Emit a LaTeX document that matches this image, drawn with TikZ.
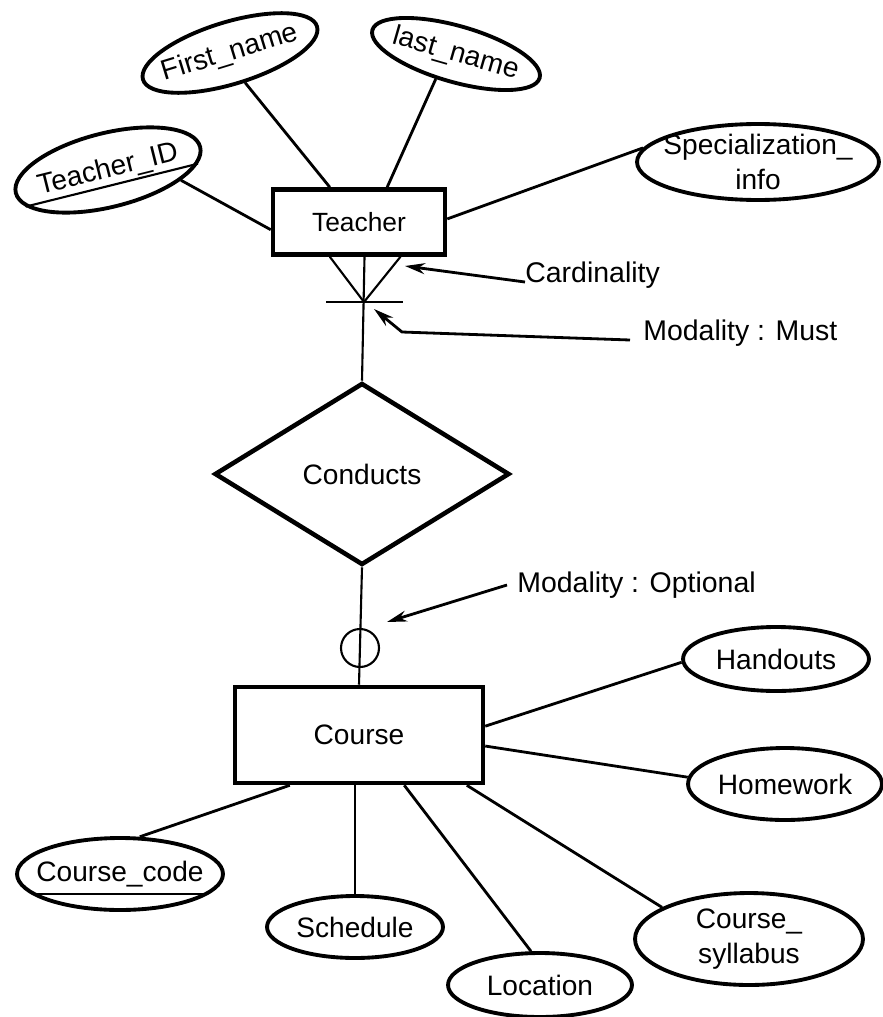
\documentclass[tikz,border=0pt]{standalone}
\usepackage{fontspec}
\setmainfont{Liberation Sans}
\usetikzlibrary{shapes.geometric,arrows.meta}

\begin{document}
\begin{tikzpicture}
[x=0.02cm,y=-0.02cm,>={Stealth[length=0.4cm,width=0.22cm]},
 entity/.style={draw,rectangle,line width=2.6pt,font=\fontsize{16}{19}\selectfont},
 attr/.style={draw,ellipse,line width=2.2pt,inner xsep=-3cm,inner ysep=-1cm,align=center,font=\fontsize{16}{19.8}\selectfont},
 rel/.style={draw,diamond,line width=2.6pt,inner sep=0pt,font=\fontsize{16}{19}\selectfont},
 link/.style={line width=1.6pt},
 foot/.style={line width=1.2pt},
 arrow/.style={line width=1.6pt},
 note/.style={inner sep=0pt,font=\fontsize{16.2}{19}\selectfont}]

\useasboundingbox (0,0) rectangle (882,1017);

% the entities and the relationship
\node[entity,minimum width=3.44cm,minimum height=1.3cm,font=\fontsize{15}{18}\selectfont] (teacher) at (359,222) {Teacher};
\node[rel,minimum width=5.9cm,minimum height=3.64cm] (conducts) at (362,474) {Conducts};
\node[entity,minimum width=4.96cm,minimum height=1.92cm] (course) at (359,735) {Course};

% the attributes of Teacher
\node[attr,rotate=14,minimum width=3.8cm,minimum height=1.48cm] (tid) at (108,170) {Teacher\_ID};
\node[attr,rotate=17,minimum width=3.64cm,minimum height=1.24cm] (fname) at (230,53) {First\_name};
\node[attr,rotate=-16,minimum width=3.48cm,minimum height=1.12cm] (lname) at (456,54) {last\_name};
\node[attr,minimum width=4.84cm,minimum height=1.52cm] (spec) at (758,162) {Specialization\_\\info};

% the attributes of Course
\node[attr,minimum width=3.72cm,minimum height=1.28cm] (hand) at (776,659) {Handouts};
\node[attr,minimum width=3.88cm,minimum height=1.44cm] (hw) at (785,784) {Homework};
\node[attr,minimum width=4.56cm,minimum height=1.84cm] (syl) at (749,939) {Course\_\\syllabus};
\node[attr,minimum width=3.68cm,minimum height=1.28cm] (loc) at (540,985) {Location};
\node[attr,minimum width=3.52cm,minimum height=1.24cm] (sched) at (355,927) {Schedule};
\node[attr,minimum width=4.12cm,minimum height=1.44cm] (ccode) at (120,874) {Course\_code};

% key attributes are underlined
\draw[foot] (tid.190) -- (tid.-10);
\draw[foot] (ccode.193) -- (ccode.-13);

% attribute links
\draw[link] (tid.-22) -- (teacher.185);
\draw[link] (fname.-80) -- (teacher.130);
\draw[link] (lname.-113) -- (teacher.51);
\draw[link] (spec.173) -- (teacher.2);
\draw[link] (hand.182) -- (course.4);
\draw[link] (hw.176) -- (course.-5);
\draw[link] (syl.160) -- (course.-25);
\draw[link] (loc.105) -- (course.-48);
\draw[link] (sched.north) -- (sched.north |- course.south);
\draw[link] (ccode.62) -- (course.216);

% crow's foot with the must bar
\coordinate (foot) at (364,302);
\draw[foot] (teacher.230) -- (foot) -- (teacher.-40);
\draw[foot] (teacher.-81) -- (conducts.north);
\draw[foot] ([xshift=-0.76cm]foot) -- ([xshift=0.78cm]foot);

% optional side
\draw[foot] (conducts.south) -- (course.north);
\node[circle,draw,foot,minimum size=0.76cm,inner sep=0pt] (zero) at (360,648) {};

% the notes
\coordinate (cardtip) at (405,266);
\coordinate (mustbend) at (402,332);
\coordinate (musttip) at (374,309);
\coordinate (opttip) at (387,622);

\node[note,anchor=base west] (card) at (525,282) {Cardinality};
\node[note,anchor=base west] (must) at (643,340) {Modality : Must};
\node[note,anchor=base west] (optional) at (517,592) {Modality : Optional};

\draw[arrow,->] (card.base west) -- (cardtip);
\draw[arrow,->] ([xshift=-0.26cm]must.base west) -- (mustbend) -- (musttip);
\draw[arrow,->] ([xshift=-0.2cm,yshift=0.14cm]optional.base west) -- (opttip);

\end{tikzpicture}
\end{document}
